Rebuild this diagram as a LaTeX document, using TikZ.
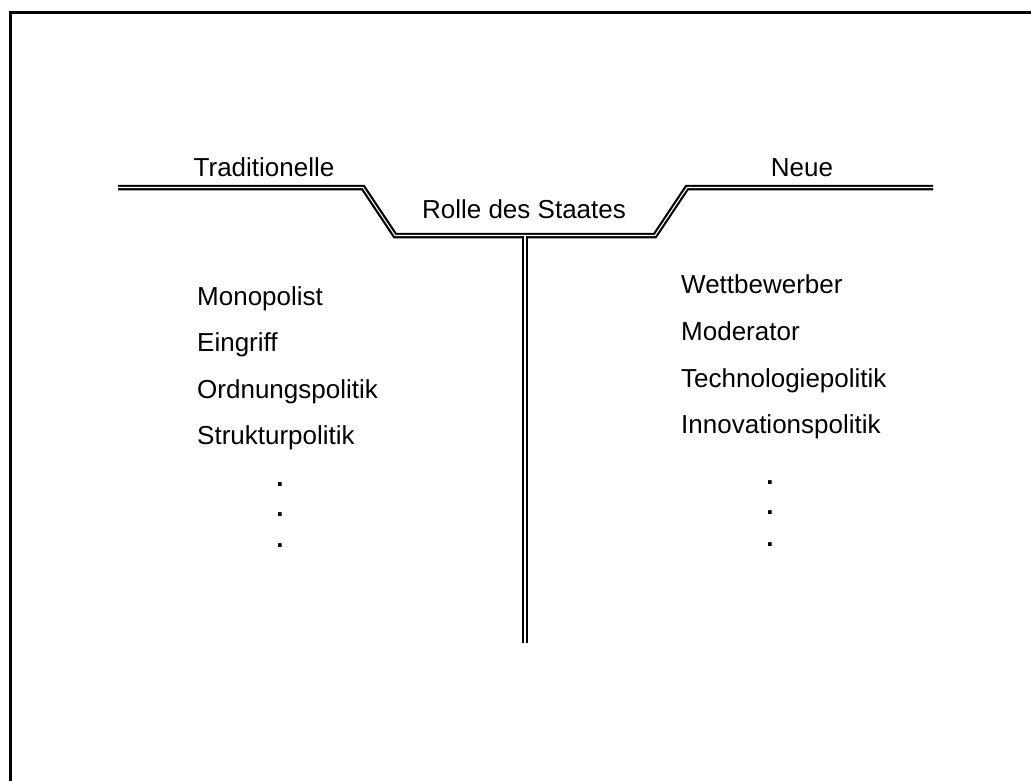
\documentclass[tikz,border=0pt]{standalone}
\usepackage{fontspec}
\setmainfont{Liberation Sans}
\begin{document}
\begin{tikzpicture}[x=1pt,y=-1pt,
  lbl/.style={inner sep=0pt,font=\fontsize{26}{30}\selectfont},
  item/.style={lbl,anchor=base west},
  dotmark/.style={lbl,anchor=base,font=\fontsize{26}{30}\selectfont\bfseries},
  rail/.style={draw=black,double=white,line width=2.2pt,double distance=1.1pt}]
\useasboundingbox (0,0) rectangle (1031,781);
\clip (0,0) rectangle (1031,781);
% outer frame (runs off the page on the right and bottom)
\draw[line width=3pt] (10,12.5) rectangle (1045,800);

% the trough-shaped rail and its stem
\coordinate (l0) at (118,187.5);
\coordinate (l1) at (363,187.5);
\coordinate (b0) at (395,235.5);
\coordinate (b1) at (655,235.5);
\coordinate (r1) at (687,187.5);
\coordinate (r0) at (933,187.5);
\coordinate (stemtop) at (525,235.5);
\coordinate (stembot) at (525,643);
\draw[rail] (l0) -- (l1) -- (b0) -- (b1) -- (r1) -- (r0);
\draw[rail] (stemtop) -- (stembot);

% headings
\node[lbl,anchor=base] (trad) at (264,177) {Traditionelle};
\node[lbl,anchor=base] (neue) at (802,177) {Neue};
\node[lbl,anchor=base] (rolle) at (524,218) {Rolle des Staates};

% traditional roles
\node[item] (m1) at (197,305) {Monopolist};
\node[item] (m2) at (197,351) {Eingriff};
\node[item] (m3) at (197,398) {Ordnungspolitik};
\node[item] (m4) at (197,444) {Strukturpolitik};
\node[dotmark] (ld1) at (280,486) {.};
\node[dotmark] (ld2) at (280,516) {.};
\node[dotmark] (ld3) at (280,547) {.};

% new roles
\node[item] (n1) at (681,293) {Wettbewerber};
\node[item] (n2) at (681,340) {Moderator};
\node[item] (n3) at (681,387) {Technologiepolitik};
\node[item] (n4) at (681,433) {Innovationspolitik};
\node[dotmark] (rd1) at (770,484) {.};
\node[dotmark] (rd2) at (770,514) {.};
\node[dotmark] (rd3) at (770,546) {.};
\end{tikzpicture}
\end{document}
